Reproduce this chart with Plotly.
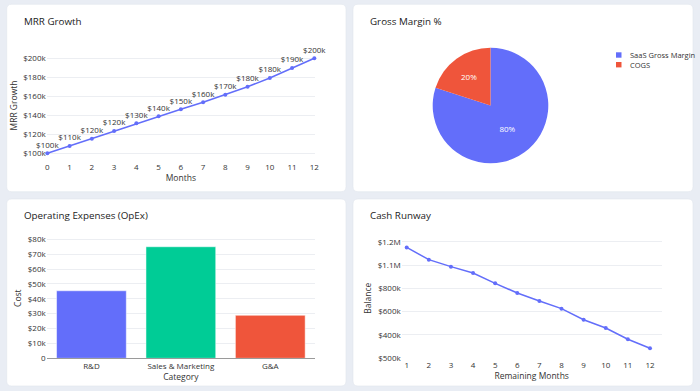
import plotly.graph_objects as go

# ---------------- data ----------------
mrr_months = list(range(13))
mrr_values = [100000, 107700, 115400, 123500, 131600, 139000, 146300, 153700,
              161700, 170100, 179300, 189800, 200000]
mrr_labels = ["$100k", "$110k", "$120k", "$120k", "$130k", "$140k", "$150k",
              "$160k", "$170k", "$180k", "$180k", "$190k", "$200k"]
mrr_tickvals = [100000, 120000, 140000, 160000, 180000, 200000]
mrr_ticktext = ["$100k", "$120k", "$140k", "$160k", "$180k", "$200k"]

pie_labels = ["SaaS Gross Margin", "COGS"]
pie_values = [80, 20]
pie_colors = ["#636efa", "#EF553B"]

opex_categories = ["R&D", "Sales & Marketing", "G&A"]
opex_values = [45400, 75000, 28900]
opex_colors = ["#636efa", "#00cc96", "#EF553B"]
opex_tickvals = [0, 10000, 20000, 30000, 40000, 50000, 60000, 70000, 80000]
opex_ticktext = ["0", "$10k", "$20k", "$30k", "$40k", "$50k", "$60k", "$70k", "$80k"]

cash_months = list(range(1, 13))
cash_values = [1151000, 1046000, 986000, 931000, 843000, 760000, 691000,
               626000, 531000, 460000, 363000, 286000]
cash_tickvals = [200000, 400000, 600000, 800000, 1000000, 1200000]
cash_ticktext = ["$500k", "$400k", "$600k", "$800k", "$1.1M", "$1.2M"]

panel_titles = ["MRR Growth", "Gross Margin %", "Operating Expenses (OpEx)", "Cash Runway"]

# ---------------- geometry helpers ----------------
W, H = 700, 391


def fx(p):
    return p / W


def fy(p):
    return 1 - p / H


def lin_range(p_lo, p_hi, v1, p1, v2, p2):
    s = (v2 - v1) / (p2 - p1)
    return [v1 + (p_lo - p1) * s, v1 + (p_hi - p1) * s]


FONT = "Open Sans"
TXT = "#333333"
GRID = "#eceef2"
BLUE = "#636efa"

fig = go.Figure()

# MRR line
fig.add_trace(go.Scatter(
    x=mrr_months, y=mrr_values, mode="lines+markers+text",
    text=mrr_labels, textposition="top center",
    textfont=dict(size=8, color=TXT, family=FONT),
    line=dict(color=BLUE, width=1.5), marker=dict(size=4, color=BLUE),
    cliponaxis=False, xaxis="x", yaxis="y", showlegend=False,
))

# Pie
pie_dom_x = [fx(432.7), fx(548.3)]
pie_dom_y = [fy(163.5), fy(47.5)]
fig.add_trace(go.Pie(
    labels=pie_labels, values=pie_values, marker=dict(colors=pie_colors),
    textinfo="percent", textfont=dict(size=8, color="white", family=FONT),
    domain=dict(x=pie_dom_x, y=pie_dom_y), sort=False, showlegend=False,
))

# OpEx bars
fig.add_trace(go.Bar(
    x=opex_categories, y=opex_values,
    marker=dict(color=opex_colors, line=dict(color="rgba(255,255,255,0.5)", width=1)),
    xaxis="x2", yaxis="y2", showlegend=False,
))

# Cash runway
fig.add_trace(go.Scatter(
    x=cash_months, y=cash_values, mode="lines+markers",
    line=dict(color=BLUE, width=1.5), marker=dict(size=4, color=BLUE),
    xaxis="x3", yaxis="y3", showlegend=False,
))

tickfont = dict(size=8, color=TXT, family=FONT)
titlefont = dict(size=8.5, color=TXT, family=FONT)

common_x = dict(showgrid=False, zeroline=False, tickfont=tickfont, ticks="",
                automargin=False, showline=False)
common_y = dict(showgrid=True, gridcolor=GRID, gridwidth=1, zeroline=False,
                tickfont=tickfont, ticks="", automargin=False, showline=False)

# MRR axes
mrr_top, mrr_bot = 50, 161
fig.update_layout(
    xaxis=dict(common_x, domain=[fx(46.7), fx(315)], range=[-0.03, 12.03],
               tickmode="array", tickvals=mrr_months,
               title=dict(text="Months", font=titlefont, standoff=4),
               anchor="y"),
    yaxis=dict(common_y, domain=[fy(mrr_bot), fy(mrr_top)],
               range=lin_range(mrr_bot, mrr_top, 100000, 153.3, 200000, 58.3),
               tickmode="array", tickvals=mrr_tickvals, ticktext=mrr_ticktext,
               title=dict(text="MRR Growth", font=titlefont, standoff=4),
               anchor="x"),
)

# OpEx axes
op_top, op_bot = 238, 358.3
fig.update_layout(
    xaxis2=dict(common_x, domain=[fx(46.7), fx(315)], showline=True,
                linecolor="#9a9a9a", linewidth=1,
                title=dict(text="Category", font=titlefont, standoff=4),
                anchor="y2"),
    yaxis2=dict(common_y, domain=[fy(op_bot), fy(op_top)],
                range=lin_range(op_bot, op_top, 0, 358.3, 80000, 239.3),
                tickmode="array", tickvals=opex_tickvals, ticktext=opex_ticktext,
                title=dict(text="Cost", font=titlefont, standoff=4),
                anchor="x2"),
    bargap=0.22,
)

# Cash axes
c_top, c_bot = 238, 358.5
fig.update_layout(
    xaxis3=dict(common_x, domain=[fx(401.7), fx(661.7)], range=[0.774, 12.53],
                tickmode="array", tickvals=cash_months,
                title=dict(text="Remaining Months", font=titlefont, standoff=4),
                anchor="y3"),
    yaxis3=dict(common_y, domain=[fy(c_bot), fy(c_top)],
                range=lin_range(c_bot, c_top, 200000, 358.3, 1200000, 241.7),
                tickmode="array", tickvals=cash_tickvals, ticktext=cash_ticktext,
                title=dict(text="Balance", font=titlefont, standoff=4),
                anchor="x3"),
)

# ---------------- cards ----------------
def rounded(x0, y0, x1, y1, r=5):
    rx, ry = r / W, r / H
    X0, X1 = fx(x0), fx(x1)
    Y0, Y1 = fy(y0), fy(y1)  # Y0 top (higher), Y1 bottom
    return (f"M {X0+rx},{Y0} L {X1-rx},{Y0} Q {X1},{Y0} {X1},{Y0-ry} "
            f"L {X1},{Y1+ry} Q {X1},{Y1} {X1-rx},{Y1} L {X0+rx},{Y1} "
            f"Q {X0},{Y1} {X0},{Y1+ry} L {X0},{Y0-ry} Q {X0},{Y0} {X0+rx},{Y0} Z")

cards = [(6.7, 4.3, 346, 191.7), (353, 4.3, 693, 191.7),
         (6.7, 199, 346, 386), (353, 199, 693, 386)]
shapes = []
for c in cards:
    shapes.append(dict(type="path", path=rounded(*c), xref="paper", yref="paper",
                       fillcolor="white", line=dict(color="#e1e5ec", width=0.6),
                       layer="below"))

# pie legend (manual, compact)
leg_x, leg_y0, leg_dy = 616, 55, 9.7
annotations = []
for i, (lab, col) in enumerate(zip(pie_labels, pie_colors)):
    yy = leg_y0 + i * leg_dy
    shapes.append(dict(type="rect", xref="paper", yref="paper",
                       x0=fx(leg_x), x1=fx(leg_x + 5.5), y0=fy(yy + 2.7), y1=fy(yy - 2.7),
                       fillcolor=col, line=dict(width=0)))
    annotations.append(dict(text=lab, x=fx(628), y=fy(yy), xref="paper", yref="paper",
                            xanchor="left", yanchor="middle", showarrow=False,
                            font=dict(size=7.5, color=TXT, family=FONT)))

title_pos = [(22, 22), (368.3, 22), (22, 215), (368.3, 215)]
for t, (px, py) in zip(panel_titles, title_pos):
    annotations.append(dict(text=t, x=fx(px), y=fy(py), xref="paper", yref="paper",
                            xanchor="left", yanchor="middle", showarrow=False,
                            font=dict(size=9.8, color="#222222", family=FONT)))

fig.update_layout(
    width=W, height=H, margin=dict(l=0, r=0, t=0, b=0),
    paper_bgcolor="#e9edf4", plot_bgcolor="rgba(0,0,0,0)",
    shapes=shapes, annotations=annotations,
    font=dict(family=FONT, color=TXT),
    template="none",
)

fig.write_html("out.html", config={"displayModeBar": False},
               post_script="document.body.style.margin='0';document.body.style.overflow='hidden';")
